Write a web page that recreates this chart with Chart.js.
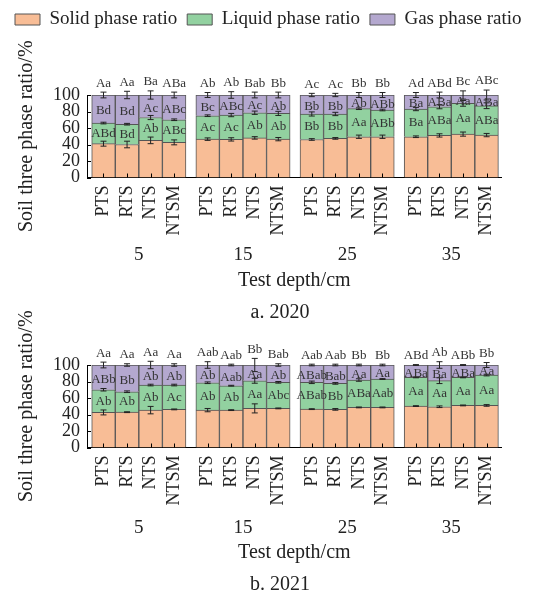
<!DOCTYPE html>
<html>
<head>
<meta charset="utf-8">
<script src="https://cdn.jsdelivr.net/npm/chart.js@4.4.0/dist/chart.umd.min.js"></script>
<style>
  body { margin: 0; background: #fff; }
  .page { position: relative; width: 555px; height: 597px; }
  canvas { display: block; position: absolute; left: 0; }
  #chart2020 { top: 0; }
  #chart2021 { top: 290px; }
</style>
</head>
<body>
<div class="page">
<canvas id="chart2020" width="555" height="325"></canvas>
<canvas id="chart2021" width="555" height="307"></canvas>
</div>
<script>
const depths = ['5', '15', '25', '35'];
const treatments = ['PTS', 'RTS', 'NTS', 'NTSM'];
const phases = ['Solid phase ratio', 'Liquid phase ratio', 'Gas phase ratio'];
const phaseColors = ['#f8bd96', '#92d1a0', '#b4a8cf'];

// 2020 (% of soil volume, 4 depths x 4 treatments)
const solid2020 = [41.0, 40.0, 45.0, 42.6, 46.5, 46.2, 48.0, 46.5, 46.1, 47.4, 49.4, 49.4, 49.4, 51.0, 52.6, 51.4];
const liquid2020 = [25.0, 24.6, 27.7, 27.4, 28.4, 29.5, 30.5, 31.2, 30.9, 29.6, 34.0, 32.4, 33.6, 34.8, 37.3, 35.6];
const gas2020 = [34.0, 35.4, 27.3, 30.0, 25.1, 24.3, 21.5, 22.3, 23.0, 23.0, 16.6, 18.2, 17.0, 14.2, 10.1, 13.0];
const solidErr2020 = [3, 4, 4, 3, 1.5, 2, 1.5, 2, 1, 1, 2, 2, 1, 2, 2.5, 2];
const liquidErr2020 = [1, 1, 2.5, 1, 1, 2, 2, 2.5, 2.5, 2, 1, 1, 2, 2.5, 3.5, 3.5];
const gasErr2020 = [3.5, 4.5, 5, 3.5, 3, 4, 3.5, 3.5, 2, 2, 3, 3, 3, 3.5, 5, 6];
const topLetters2020 = ['Aa', 'Aa', 'Ba', 'ABa', 'Ab', 'Ab', 'Bab', 'Bb', 'Ac', 'Ac', 'Bb', 'Bb', 'Ad', 'ABd', 'Bc', 'ABc'];
const gasLetters2020 = ['Bd', 'Bd', 'Ac', 'ABc', 'Bc', 'ABc', 'Ac', 'Ab', 'Bb', 'Bb', 'Ab', 'ABb', 'Ba', 'ABa', 'Aa', 'ABa'];
const liquidLetters2020 = ['ABd', 'Bd', 'Ab', 'ABc', 'Ac', 'Ac', 'Ab', 'Ab', 'Bb', 'Bb', 'Aa', 'ABb', 'Ba', 'ABa', 'Aa', 'ABa'];

// 2021
const solid2021 = [42.5, 42.8, 45.3, 46.2, 45.3, 45.3, 47.4, 47.4, 46.5, 46.2, 48.6, 48.6, 50.2, 49.4, 51.0, 51.0];
const liquid2021 = [27.5, 24.8, 30.4, 29.5, 33.2, 29.6, 33.5, 31.6, 32.5, 31.5, 33.2, 34.4, 34.8, 31.6, 34.0, 36.8];
const gas2021 = [30.0, 32.4, 24.3, 24.3, 21.5, 25.1, 19.1, 21.0, 21.0, 22.3, 18.2, 17.0, 15.0, 19.0, 15.0, 12.2];
const solidErr2021 = [3, 0.5, 4.5, 0.5, 2, 0.5, 5.5, 0.5, 0.5, 1, 0.5, 0.5, 0.5, 1, 0.5, 1];
const liquidErr2021 = [1.5, 1, 1, 1, 1, 0.5, 3, 1, 1.5, 1, 1.5, 0.5, 0.5, 3.5, 0.5, 1];
const gasErr2021 = [3.5, 1.5, 4.5, 1.5, 4, 1, 8, 1.5, 1, 1, 1, 1, 0.5, 4, 0.5, 3];
const topLetters2021 = ['Aa', 'Aa', 'Aa', 'Aa', 'Aab', 'Aab', 'Bb', 'Bab', 'Aab', 'Aab', 'Bb', 'Bb', 'ABd', 'Ab', 'ABb', 'Bb'];
const gasLetters2021 = ['ABb', 'Bb', 'Ab', 'Ab', 'Ab', 'Aab', 'Aa', 'Ab', 'ABab', 'Bab', 'Aa', 'Aa', 'ABa', 'Ba', 'ABa', 'Aa'];
const liquidLetters2021 = ['Ab', 'Ab', 'Ab', 'Ac', 'Ab', 'Ab', 'Aa', 'Abc', 'ABab', 'Bb', 'ABa', 'Aab', 'Aa', 'Aa', 'Aa', 'Aa'];

Chart.defaults.font.family = "'Liberation Serif', 'Times New Roman', serif";
Chart.defaults.color = '#222';

// bars of one depth touch each other, depth groups are split by a small gap
const GAP = 0.42;
function barX(k) {
    return Math.floor(k / 4) * (4 + GAP) + (k % 4);
}
const barXs = solid2020.map((v, k) => barX(k));
const xMin = -0.7;
const xMax = barX(15) + 0.64;

function line(ctx, x1, y1, x2, y2) {
    ctx.beginPath();
    ctx.moveTo(x1, y1);
    ctx.lineTo(x2, y2);
    ctx.stroke();
}

// inner ticks, error bars and significance letters
function makeMarks(panel) {
    return {
        id: 'marks',
        afterDatasetsDraw(chart) {
            const { ctx, scales: { x, y } } = chart;
            const bars = chart.getDatasetMeta(0).data;
            ctx.save();
            ctx.strokeStyle = '#000';
            ctx.lineWidth = 1;
            x.ticks.forEach(t => {
                const px = Math.round(x.getPixelForValue(t.value)) + 0.5;
                line(ctx, px, y.bottom, px, y.bottom - 4);
            });
            y.ticks.forEach(t => {
                const py = Math.round(y.getPixelForValue(t.value)) + 0.5;
                line(ctx, x.left, py, x.left + 4, py);
            });

            ctx.strokeStyle = '#222';
            bars.forEach((bar, k) => {
                const tops = [panel.solid[k], panel.solid[k] + panel.liquid[k], panel.solid[k] + panel.liquid[k] + panel.gas[k]];
                const errs = [panel.solidErr[k], panel.liquidErr[k], panel.gasErr[k]];
                tops.forEach((v, j) => {
                    const y1 = y.getPixelForValue(v + errs[j]);
                    const y2 = y.getPixelForValue(v - errs[j]);
                    line(ctx, bar.x, y1, bar.x, y2);
                    line(ctx, bar.x - 3, y1, bar.x + 3, y1);
                    line(ctx, bar.x - 3, y2, bar.x + 3, y2);
                });
            });

            ctx.fillStyle = '#333';
            ctx.font = "13px 'Liberation Serif', serif";
            ctx.textAlign = 'center';
            ctx.textBaseline = 'middle';
            bars.forEach((bar, k) => {
                const s = panel.solid[k], l = panel.liquid[k], g = panel.gas[k];
                ctx.fillText(panel.liquidLetters[k], bar.x, y.getPixelForValue(s + l / 2));
                ctx.fillText(panel.gasLetters[k], bar.x, y.getPixelForValue(s + l + g / 2) + 2);
                ctx.fillText(panel.topLetters[k], bar.x, y.getPixelForValue(s + l + g + panel.gasErr[k]) - 9);
            });
            ctx.restore();
        }
    };
}

function makeChart(id, panel, box) {
    const values = [panel.solid, panel.liquid, panel.gas];
    const scales = {
        x: {
            type: 'linear',
            position: 'bottom',
            stacked: true,
            offset: false,
            min: xMin,
            max: xMax,
            afterBuildTicks: s => { s.ticks = barXs.map(v => ({ value: v })); },
            afterFit: s => { s.height = 62; },
            grid: { display: false, drawTicks: false },
            border: { display: true, color: '#000', width: 1 },
            ticks: {
                autoSkip: false,
                minRotation: 90,
                maxRotation: 90,
                padding: 8,
                font: { size: 18 },
                callback: (v, i) => treatments[i % 4]
            }
        },
        x2: {
            type: 'linear',
            position: 'bottom',
            weight: 1,
            offset: false,
            min: xMin,
            max: xMax,
            afterBuildTicks: s => { s.ticks = depths.map((d, g) => ({ value: barX(g * 4) + 1.5 })); },
            afterFit: s => { s.height = box.depthHeight; },
            grid: { display: false, drawTicks: false },
            border: { display: false },
            ticks: { autoSkip: false, maxRotation: 0, padding: box.depthPad, font: { size: 19 }, callback: (v, i) => depths[i] },
            title: { display: true, text: 'Test depth/cm', font: { size: 20 }, padding: { top: 0, bottom: 4 } }
        },
        y: {
            stacked: true,
            min: 0,
            max: 100,
            afterFit: s => { s.width = 82; },
            grid: { display: false, drawTicks: false },
            border: { display: true, color: '#000', width: 1 },
            ticks: { stepSize: 20, autoSkip: false, padding: 7, font: { size: 18 } },
            title: { display: true, text: 'Soil three phase ratio/%', font: { size: 20 }, padding: { top: 10, bottom: 0 } }
        },
        yRight: {
            type: 'linear',
            position: 'right',
            afterFit: s => { s.width = 53.3; },
            grid: { display: false, drawTicks: false },
            border: { display: false },
            ticks: { display: false }
        }
    };
    if (box.legend) {
        // room between the legend and the plot for the letters
        scales.xTop = {
            type: 'linear',
            position: 'top',
            afterFit: s => { s.height = 56; },
            grid: { display: false, drawTicks: false },
            border: { display: false },
            ticks: { display: false }
        };
    }

    return new Chart(document.getElementById(id), {
        type: 'bar',
        data: {
            datasets: phases.map((name, d) => ({
                label: name,
                data: values[d].map((v, k) => ({ x: barX(k), y: v })),
                backgroundColor: phaseColors[d],
                borderColor: '#555',
                borderWidth: 1,
                categoryPercentage: 1,
                barPercentage: 1
            }))
        },
        options: {
            responsive: false,
            animation: false,
            layout: { padding: { left: 5, top: box.top, bottom: 0 } },
            plugins: {
                legend: {
                    display: box.legend,
                    align: 'start',
                    labels: { boxWidth: 25, boxHeight: 11, padding: 10, font: { size: 19 }, color: '#222' }
                },
                title: {
                    display: true,
                    text: box.title,
                    position: 'bottom',
                    padding: { top: 4, bottom: 0 },
                    font: { size: 20, weight: 'normal' },
                    color: '#222'
                },
                tooltip: { enabled: false }
            },
            scales: scales
        },
        plugins: [makeMarks(panel)]
    });
}

makeChart('chart2020', {
    solid: solid2020, liquid: liquid2020, gas: gas2020,
    solidErr: solidErr2020, liquidErr: liquidErr2020, gasErr: gasErr2020,
    topLetters: topLetters2020, gasLetters: gasLetters2020, liquidLetters: liquidLetters2020
}, { legend: true, top: 0, depthHeight: 57.5, depthPad: 4, title: 'a. 2020' });

makeChart('chart2021', {
    solid: solid2021, liquid: liquid2021, gas: gas2021,
    solidErr: solidErr2021, liquidErr: liquidErr2021, gasErr: gasErr2021,
    topLetters: topLetters2021, gasLetters: gasLetters2021, liquidLetters: liquidLetters2021
}, { legend: false, top: 75, depthHeight: 59.5, depthPad: 7, title: 'b. 2021' });
</script>
</body>
</html>
